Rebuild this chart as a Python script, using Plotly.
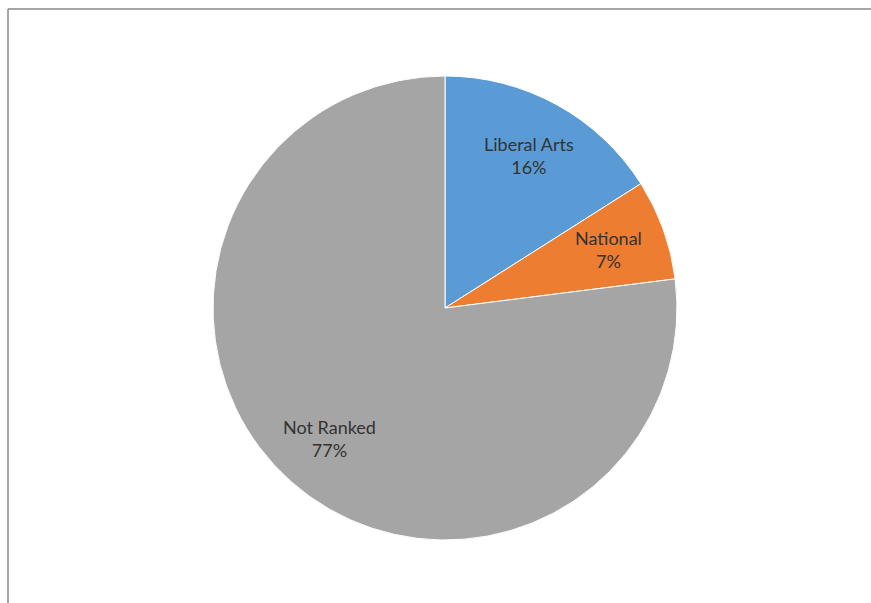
import math
import plotly.graph_objects as go

labels = ["Liberal Arts", "National", "Not Ranked"]
values = [16, 7, 77]
colors = ["#5B9BD5", "#ED7D31", "#A5A5A5"]

W, H = 871, 603
cx, cy, r = 445, 308, 232
label_frac = 0.75

fig = go.Figure(go.Pie(
    labels=labels,
    values=values,
    sort=False,
    direction="clockwise",
    rotation=0,
    marker=dict(colors=colors, line=dict(color="white", width=1)),
    textinfo="none",
    showlegend=False,
    hoverinfo="label+percent",
    domain=dict(x=[(cx - r) / W, (cx + r) / W], y=[1 - (cy + r) / H, 1 - (cy - r) / H]),
))

# data labels placed at each slice's mid-angle (Excel "best fit" style)
total = sum(values)
annotations = []
cum = 0
for lab, v in zip(labels, values):
    mid = (cum + v / 2) / total * 2 * math.pi
    cum += v
    d = r * label_frac
    px = cx + d * math.sin(mid)
    py = cy - d * math.cos(mid)
    annotations.append(dict(
        x=px / W, y=1 - py / H, xref="paper", yref="paper",
        xanchor="center", yanchor="middle",
        text=f"{lab}<br>{round(v / total * 100)}%",
        showarrow=False,
        font=dict(family="Lato, Open Sans, sans-serif", size=18, color="#333333"),
        align="center",
    ))

fig.update_layout(
    width=W, height=H,
    margin=dict(l=0, r=0, t=0, b=0),
    paper_bgcolor="white",
    plot_bgcolor="white",
    annotations=annotations,
    shapes=[
        dict(type="line", xref="paper", yref="paper", x0=8 / W, x1=1, y0=1 - 9 / H, y1=1 - 9 / H,
             line=dict(color="#888888", width=1.5)),
        dict(type="line", xref="paper", yref="paper", x0=8 / W, x1=8 / W, y0=0, y1=1 - 9 / H,
             line=dict(color="#888888", width=1.5)),
    ],
)

fig.write_html("out.html")
